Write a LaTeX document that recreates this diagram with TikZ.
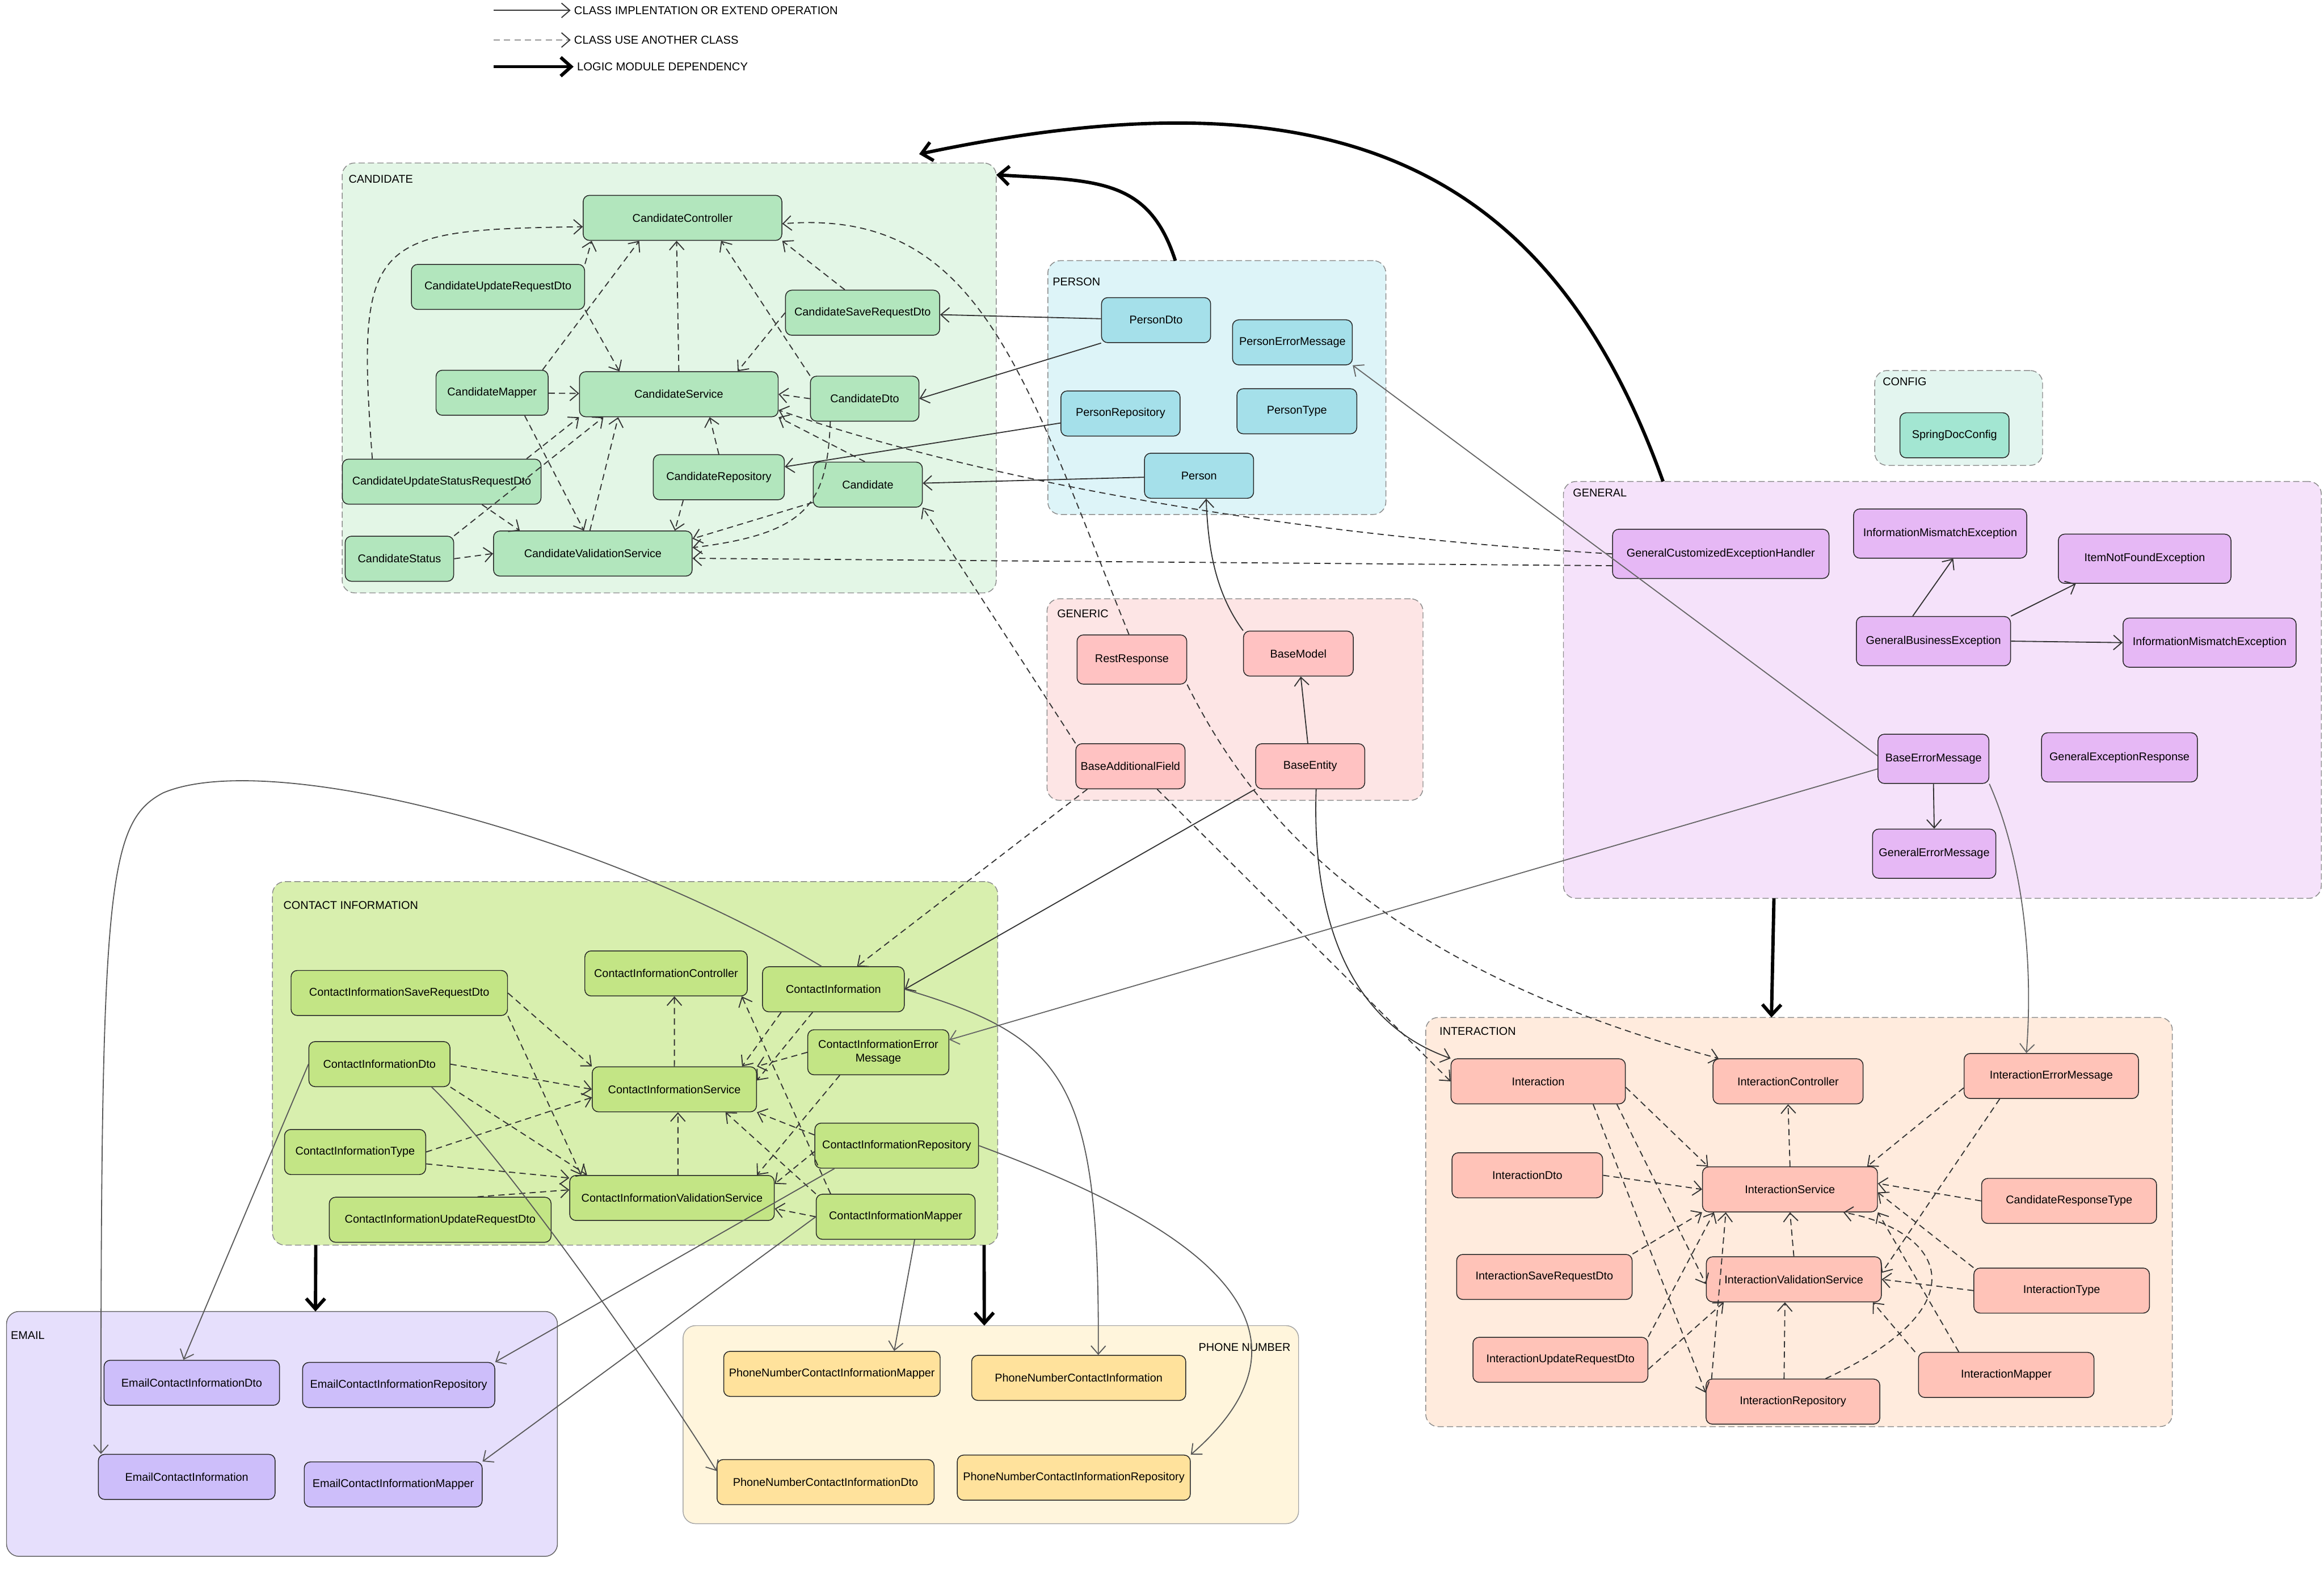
\documentclass[tikz,border=0pt]{standalone}
\usepackage{fontspec}
\setmainfont{Liberation Sans}
\usetikzlibrary{arrows.meta}

\definecolor{candbg}{HTML}{E3F6E6}
\definecolor{candfg}{HTML}{B2E6BD}
\definecolor{persbg}{HTML}{DDF4F8}
\definecolor{persfg}{HTML}{A5E0EA}
\definecolor{genbg}{HTML}{FDE5E5}
\definecolor{genfg}{HTML}{FFC2C2}
\definecolor{cfgbg}{HTML}{E3F5EF}
\definecolor{cfgfg}{HTML}{A3E6D2}
\definecolor{gnlbg}{HTML}{F5E2FA}
\definecolor{gnlfg}{HTML}{E6B8F5}
\definecolor{contbg}{HTML}{D8EFAE}
\definecolor{contfg}{HTML}{C3E585}
\definecolor{mailbg}{HTML}{E6DFFC}
\definecolor{mailfg}{HTML}{CDBEFA}
\definecolor{phonebg}{HTML}{FFF5DC}
\definecolor{phonefg}{HTML}{FFE29C}
\definecolor{interbg}{HTML}{FFEBDD}
\definecolor{interfg}{HTML}{FFC3B8}

\tikzset{
  cls/.style={rectangle, draw=black!85, fill=#1, rounded corners=3pt,
              minimum height=0.76cm, inner sep=1pt, align=center,
              font=\fontsize{5.4}{6.6}\selectfont},
  grp/.style={rectangle, draw=black!45, dash pattern=on 3pt off 1.5pt,
              fill=#1, rounded corners=6pt, inner sep=0pt, outer sep=0pt},
  grplbl/.style={font=\fontsize{5.4}{6}\selectfont, inner sep=0pt},
  lgd/.style={font=\fontsize{5.5}{6}\selectfont, anchor=west, inner sep=1.5pt},
  impl/.style={-{Straight Barb[length=4pt,width=7pt]}, draw=black!80, line width=0.5pt},
  uses/.style={impl, dash pattern=on 3pt off 2pt},
  dep/.style={-{Straight Barb[length=5pt,width=9pt]}, line width=1.6pt}
}

\begin{document}
\begin{tikzpicture}[x=0.025cm, y=-0.025cm]
  \useasboundingbox (0,0) rectangle (1568,1060);

  % Legend
  \coordinate (lgA) at (333,7);
  \coordinate (lgB) at (333,27);
  \coordinate (lgC) at (333,45);
  \node[lgd] (lgAtxt) at (385,7) {CLASS IMPLENTATION OR EXTEND OPERATION};
  \node[lgd] (lgBtxt) at (385,27) {CLASS USE ANOTHER CLASS};
  \node[lgd] (lgCtxt) at (387,45) {LOGIC MODULE DEPENDENCY};
  \draw[impl] (lgA) -- (lgAtxt.west);
  \draw[uses] (lgB) -- (lgBtxt.west);
  \draw[dep] (lgC) -- (lgCtxt.west);

  % Modules
  \node[grp=candbg, minimum width=11.03cm, minimum height=7.25cm] (gCand) at (451.5,255) {};
  \node[grp=persbg, minimum width=5.7cm, minimum height=4.28cm] (gPerson) at (821,261.5) {};
  \node[grp=genbg, minimum width=6.34cm, minimum height=3.4cm] (gGeneric) at (833.25,472) {};
  \node[grp=cfgbg, minimum width=2.83cm, minimum height=1.6cm] (gConfig) at (1321.5,282) {};
  \node[grp=gnlbg, minimum width=12.78cm, minimum height=7.03cm] (gGeneral) at (1310.5,465.5) {};
  \node[grp=contbg, minimum width=12.23cm, minimum height=6.13cm] (gContact) at (428.5,717.5) {};
  \node[grp=mailbg, solid, draw=black!60, minimum width=9.29cm, minimum height=4.13cm] (gEmail) at (190.25,967.5) {};
  \node[grp=phonebg, solid, draw=black!35, minimum width=10.38cm, minimum height=3.34cm] (gPhone) at (668.5,961.25) {};
  \node[grp=interbg, minimum width=12.59cm, minimum height=6.9cm] (gInter) at (1213.8,824.55) {};

  \node[grplbl, anchor=west] (lCand) at (235,121) {CANDIDATE};
  \node[grplbl, anchor=west] (lPerson) at (710,190) {PERSON};
  \node[grplbl, anchor=west] (lGeneric) at (713,414) {GENERIC};
  \node[grplbl, anchor=west] (lConfig) at (1270,257.5) {CONFIG};
  \node[grplbl, anchor=west] (lGeneral) at (1061,332.6) {GENERAL};
  \node[grplbl, anchor=west] (lContact) at (191,610.7) {CONTACT INFORMATION};
  \node[grplbl, anchor=west] (lEmail) at (7,901) {EMAIL};
  \node[grplbl, anchor=east] (lPhone) at (871,909) {PHONE NUMBER};
  \node[grplbl, anchor=west] (lInter) at (971,696) {INTERACTION};

  % Candidate
  \node[cls=candfg, minimum width=3.35cm] (cCtrl) at (460.5,147) {CandidateController};
  \node[cls=candfg, minimum width=2.92cm] (cUpdReq) at (336,193.6) {CandidateUpdateRequestDto};
  \node[cls=candfg, minimum width=2.6cm] (cSaveReq) at (582,211) {CandidateSaveRequestDto};
  \node[cls=candfg, minimum width=1.89cm] (cMapper) at (332,265) {CandidateMapper};
  \node[cls=candfg, minimum width=3.35cm] (cServ) at (458,266) {CandidateService};
  \node[cls=candfg, minimum width=1.83cm] (cDto) at (583.4,269) {CandidateDto};
  \node[cls=candfg, minimum width=3.35cm] (cUpdStat) at (298,325) {CandidateUpdateStatusRequestDto};
  \node[cls=candfg, minimum width=2.21cm] (cRepo) at (485,322) {CandidateRepository};
  \node[cls=candfg, minimum width=1.84cm] (cand) at (585.5,327) {Candidate};
  \node[cls=candfg, minimum width=1.83cm] (cStatus) at (269.5,377) {CandidateStatus};
  \node[cls=candfg, minimum width=3.35cm] (cVal) at (400,373.5) {CandidateValidationService};

  % Person
  \node[cls=persfg, minimum width=1.84cm] (pDto) at (780,216) {PersonDto};
  \node[cls=persfg, minimum width=2.02cm] (pErr) at (872,231) {PersonErrorMessage};
  \node[cls=persfg, minimum width=2.01cm] (pRepo) at (756,279) {PersonRepository};
  \node[cls=persfg, minimum width=2.02cm] (pType) at (875,277.5) {PersonType};
  \node[cls=persfg, minimum width=1.84cm] (person) at (809,321) {Person};

  % Generic
  \node[cls=genfg, minimum width=1.85cm, minimum height=0.83cm] (restResp) at (763.7,445) {RestResponse};
  \node[cls=genfg, minimum width=1.85cm] (baseModel) at (876,441) {BaseModel};
  \node[cls=genfg, minimum width=1.84cm] (baseAdd) at (762.7,517) {BaseAdditionalField};
  \node[cls=genfg, minimum width=1.84cm] (baseEnt) at (884,517) {BaseEntity};

  % Config
  \node[cls=cfgfg, minimum width=1.84cm] (springDoc) at (1318.7,293.7) {SpringDocConfig};

  % General
  \node[cls=gnlfg, minimum width=3.65cm, minimum height=0.83cm] (gHandler) at (1161,373.7) {GeneralCustomizedExceptionHandler};
  \node[cls=gnlfg, minimum width=2.92cm, minimum height=0.83cm] (infoMisA) at (1309,360) {InformationMismatchException};
  \node[cls=gnlfg, minimum width=2.91cm, minimum height=0.83cm] (itemNF) at (1447,377) {ItemNotFoundException};
  \node[cls=gnlfg, minimum width=2.6cm, minimum height=0.83cm] (gBiz) at (1304.5,432.6) {GeneralBusinessException};
  \node[cls=gnlfg, minimum width=2.92cm, minimum height=0.83cm] (infoMisB) at (1490.8,433.6) {InformationMismatchException};
  \node[cls=gnlfg, minimum width=1.87cm, minimum height=0.83cm] (baseErr) at (1304.5,512) {BaseErrorMessage};
  \node[cls=gnlfg, minimum width=2.63cm, minimum height=0.83cm] (gExcResp) at (1430,511) {GeneralExceptionResponse};
  \node[cls=gnlfg, minimum width=2.08cm, minimum height=0.83cm] (gErr) at (1305,576) {GeneralErrorMessage};

  % Contact information
  \node[cls=contfg, minimum width=3.65cm] (ciSave) at (269.4,670) {ContactInformationSaveRequestDto};
  \node[cls=contfg, minimum width=2.74cm] (ciCtrl) at (449.4,656.8) {ContactInformationController};
  \node[cls=contfg, minimum width=2.39cm] (ci) at (562.3,667.5) {ContactInformation};
  \node[cls=contfg, minimum width=2.38cm] (ciDto) at (256,718) {ContactInformationDto};
  \node[cls=contfg, minimum width=2.38cm] (ciErr) at (592.6,710) {ContactInformationError\\Message};
  \node[cls=contfg, minimum width=2.77cm] (ciServ) at (455,735) {ContactInformationService};
  \node[cls=contfg, minimum width=2.38cm] (ciType) at (239.6,777.3) {ContactInformationType};
  \node[cls=contfg, minimum width=2.76cm] (ciRepo) at (605,773) {ContactInformationRepository};
  \node[cls=contfg, minimum width=3.45cm] (ciVal) at (453.4,808.3) {ContactInformationValidationService};
  \node[cls=contfg, minimum width=3.74cm] (ciUpd) at (297,823) {ContactInformationUpdateRequestDto};
  \node[cls=contfg, minimum width=2.68cm] (ciMapper) at (604.3,821) {ContactInformationMapper};

  % Email
  \node[cls=mailfg, minimum width=2.96cm] (eDto) at (129.4,933) {EmailContactInformationDto};
  \node[cls=mailfg, minimum width=3.24cm] (eRepo) at (269,934.5) {EmailContactInformationRepository};
  \node[cls=mailfg, minimum width=2.98cm] (eCI) at (126,996.5) {EmailContactInformation};
  \node[cls=mailfg, minimum width=3cm] (eMapper) at (265.3,1001.6) {EmailContactInformationMapper};

  % Phone number
  \node[cls=phonefg, minimum width=3.65cm] (phMapper) at (561.3,927) {PhoneNumberContactInformationMapper};
  \node[cls=phonefg, minimum width=3.61cm] (phCI) at (727.8,929.7) {PhoneNumberContactInformation};
  \node[cls=phonefg, minimum width=3.66cm] (phDto) at (557,1000) {PhoneNumberContactInformationDto};
  \node[cls=phonefg, minimum width=3.93cm] (phRepo) at (724.5,997) {PhoneNumberContactInformationRepository};

  % Interaction
  \node[cls=interfg, minimum width=2.94cm] (iInt) at (1037.8,729.6) {Interaction};
  \node[cls=interfg, minimum width=2.53cm] (iCtrl) at (1206.4,729.6) {InteractionController};
  \node[cls=interfg, minimum width=2.94cm] (iErr) at (1384,726) {InteractionErrorMessage};
  \node[cls=interfg, minimum width=2.54cm] (iDto) at (1030.5,793) {InteractionDto};
  \node[cls=interfg, minimum width=2.95cm] (iServ) at (1207.7,802.5) {InteractionService};
  \node[cls=interfg, minimum width=2.95cm] (crType) at (1396,810.3) {CandidateResponseType};
  \node[cls=interfg, minimum width=2.96cm] (iSave) at (1042,861.6) {InteractionSaveRequestDto};
  \node[cls=interfg, minimum width=2.95cm] (iVal) at (1210.3,863.2) {InteractionValidationService};
  \node[cls=interfg, minimum width=2.96cm] (iType) at (1391,870.8) {InteractionType};
  \node[cls=interfg, minimum width=2.95cm] (iUpd) at (1052.8,917.5) {InteractionUpdateRequestDto};
  \node[cls=interfg, minimum width=2.96cm] (iMapper) at (1353.6,927.7) {InteractionMapper};
  \node[cls=interfg, minimum width=2.93cm] (iRepo) at (1209.7,945.7) {InteractionRepository};

  % Module dependencies
  \draw[dep] ([xshift=1.68cm]gGeneral.north west) .. controls (1045,110) and (900,45) .. ([xshift=9.73cm,yshift=0.15cm]gCand.north west);
  \draw[dep] ([xshift=2.15cm]gPerson.north west) .. controls (775,120) and (740,122) .. ([yshift=-0.2cm]gCand.north east);
  \draw[dep] ([xshift=3.55cm]gGeneral.south west) -- ([xshift=5.83cm]gInter.north west);
  \draw[dep] ([xshift=0.73cm]gContact.south west) -- ([xshift=5.21cm]gEmail.north west);
  \draw[dep] ([xshift=12cm]gContact.south west) -- ([xshift=5.08cm]gPhone.north west);

  % Candidate uses
  \draw[uses] ([xshift=-1.17cm]cUpdStat.north) .. controls (240,160) and (250,155) .. ([yshift=-0.15cm]cCtrl.west);
  \draw[uses] (cUpdReq.north east) -- ([xshift=0.15cm]cCtrl.south west);
  \draw[uses] (cUpdReq.south east) -- ([xshift=0.68cm]cServ.north west);
  \draw[uses] ([xshift=-0.1cm]cMapper.north east) -- ([xshift=-0.73cm]cCtrl.south);
  \draw[uses] (cMapper) -- (cServ);
  \draw[uses] ([xshift=0.55cm]cMapper.south) -- ([xshift=-0.15cm]cVal.north);
  \draw[uses] (cServ.north) -- ([xshift=-0.1cm]cCtrl.south);
  \draw[uses] ([xshift=-0.3cm]cSaveReq.north) -- (cCtrl.south east);
  \draw[uses] (cSaveReq.west) -- ([xshift=-0.69cm]cServ.north east);
  \draw[uses] (cDto.north west) -- ([xshift=0.65cm]cCtrl.south);
  \draw[uses] (cDto.west) -- (cServ.east);
  \draw[uses] ([xshift=-0.58cm]cDto.south) .. controls (558,340) and (545,360) .. ([yshift=0.1cm]cVal.east);
  \draw[uses] ([xshift=-0.05cm]cand.north) -- (cServ.south east);
  \draw[uses] ([yshift=-0.3cm]cand.west) -- ([yshift=0.25cm]cVal.east);
  \draw[uses] (cRepo.north) -- ([xshift=0.52cm]cServ.south);
  \draw[uses] ([xshift=-0.6cm]cRepo.south) -- ([xshift=-0.3cm]cVal.north east);
  \draw[uses] ([xshift=-0.25cm]cUpdStat.north east) -- (cServ.south west);
  \draw[uses] ([xshift=0.68cm]cUpdStat.south) -- ([xshift=0.45cm]cVal.north west);
  \draw[uses] (cStatus.north east) -- ([xshift=0.41cm]cServ.south west);
  \draw[uses] ([xshift=-0.05cm]cVal.north) -- ([xshift=0.66cm]cServ.south west);
  \draw[uses] (cStatus.east) -- (cVal.west);

  % Person and generic
  \draw[impl] (pDto) -- (cSaveReq);
  \draw[impl] (pDto.south west) -- (cDto.east);
  \draw[impl] (pRepo) -- (cRepo);
  \draw[impl] (person) -- (cand);
  \draw[impl] (baseModel.north west) .. controls (820,400) and (815,370) .. ([xshift=0.12cm]person.south);
  \draw[impl] (baseEnt) -- (baseModel);
  \draw[impl] (baseEnt.south west) -- (ci.east);
  \draw[impl] ([xshift=0.1cm]baseEnt.south) .. controls (885,620) and (910,690) .. (iInt.north west);
  \draw[uses] ([xshift=-0.05cm]restResp.north) .. controls (690,250) and (660,140) .. ([yshift=-0.1cm]cCtrl.east);
  \draw[uses] (restResp.south east) .. controls (840,540) and (920,650) .. ([xshift=0.1cm]iCtrl.north west);
  \draw[uses] (baseAdd.north west) -- (cand.south east);
  \draw[uses] ([xshift=0.2cm]baseAdd.south west) -- ([xshift=0.4cm]ci.north);
  \draw[uses] ([xshift=0.45cm]baseAdd.south) -- (iInt.west);

  % General
  \draw[uses] (gHandler.west) .. controls (850,360) and (650,320) .. ([yshift=0.12cm]cServ.south east);
  \draw[uses] ([yshift=-0.2cm]gHandler.west) -- ([yshift=-0.08cm]cVal.east);
  \draw[impl] ([xshift=-0.35cm]gBiz.north) -- ([xshift=0.22cm]infoMisA.south);
  \draw[impl] (gBiz.north east) -- ([xshift=0.3cm]itemNF.south west);
  \draw[impl] (gBiz.east) -- (infoMisB.west);
  \draw[impl] (baseErr.south) -- (gErr.north);
  \draw[impl, draw=black!60] ([yshift=0.05cm]baseErr.west) -- (pErr.south east);
  \draw[impl, draw=black!60] ([yshift=-0.17cm]baseErr.west) -- ([yshift=0.21cm]ciErr.east);
  \draw[impl, draw=black!60] (baseErr.south east) .. controls (1365,580) and (1372,650) .. ([xshift=-0.42cm]iErr.north);

  % Contact information uses
  \draw[uses] (ciSave.east) -- (ciServ.north west);
  \draw[uses] (ciSave.south east) -- ([xshift=0.2cm]ciVal.north west);
  \draw[uses] (ciDto.east) -- (ciServ.west);
  \draw[uses] (ciDto.south east) -- ([xshift=0.3cm]ciVal.north west);
  \draw[uses] (ciType.east) -- ([yshift=0.25cm]ciServ.south west);
  \draw[uses] ([yshift=-0.2cm]ciType.east) -- ([yshift=-0.05cm]ciVal.north west);
  \draw[uses] ([xshift=0.63cm]ciUpd.north) -- ([yshift=-0.25cm]ciVal.north west);
  \draw[uses] (ciServ.north) -- ([xshift=0.14cm]ciCtrl.south);
  \draw[uses] ([xshift=0.1cm]ciVal.north) -- ([xshift=0.06cm]ciServ.south);
  \draw[uses] ([xshift=-0.88cm]ci.south) -- ([xshift=-0.25cm]ciServ.north east);
  \draw[uses] ([xshift=-0.35cm]ci.south) -- ([yshift=0.15cm]ciServ.east);
  \draw[uses] (ciErr.west) -- (ciServ.north east);
  \draw[uses] ([xshift=-0.65cm]ciErr.south) -- ([xshift=-0.3cm]ciVal.north east);
  \draw[uses] ([yshift=0.18cm]ciRepo.west) -- (ciServ.south east);
  \draw[uses] ([yshift=-0.1cm]ciRepo.west) -- ([yshift=-0.15cm]ciVal.north east);
  \draw[uses] (ciMapper.west) -- ([yshift=-0.18cm]ciVal.east);
  \draw[uses] (ciMapper.north west) -- ([xshift=-0.53cm]ciServ.south east);
  \draw[uses] ([xshift=0.25cm]ciMapper.north west) -- ([xshift=-0.1cm]ciCtrl.south east);

  % Contact information to email and phone number
  \draw[impl, draw=black!65] ([xshift=-0.2cm]ci.north) .. controls (400,560) and (180,505) .. (110,535)
             .. controls (72,555) and (68,600) .. ([xshift=0.05cm]eCI.north west);
  \draw[impl, draw=black!65] (ci.east) .. controls (720,700) and (742,730) .. ([xshift=0.33cm]phCI.north);
  \draw[impl, draw=black!65] (ciDto.west) -- ([xshift=-0.14cm]eDto.north);
  \draw[impl, draw=black!65] ([xshift=0.88cm]ciDto.south) .. controls (341,781) and (448,935) .. ([yshift=-0.2cm]phDto.north west);
  \draw[impl, draw=black!65] (ciRepo.east) .. controls (760,810) and (920,880) .. (phRepo.north east);
  \draw[impl, draw=black!65] ([xshift=-1.05cm]ciRepo.south) -- (eRepo.north east);
  \draw[impl, draw=black!65] (ciMapper.west) -- (eMapper.north east);
  \draw[impl, draw=black!65] ([xshift=0.32cm]ciMapper.south) -- ([xshift=1.05cm]phMapper.north);

  % Interaction uses
  \draw[uses] ([yshift=-0.1cm]iInt.east) -- ([xshift=0.1cm]iServ.north west);
  \draw[uses] ([xshift=-0.15cm]iInt.south east) -- ([yshift=-0.08cm]iVal.west);
  \draw[uses] ([xshift=-0.55cm]iInt.south east) -- ([yshift=0.15cm]iRepo.west);
  \draw[uses] (iDto.east) -- (iServ.west);
  \draw[uses] (iSave.north east) -- (iServ.south west);
  \draw[uses] (iUpd.north east) -- ([xshift=0.2cm]iServ.south west);
  \draw[uses] ([yshift=-0.16cm]iUpd.east) -- ([xshift=0.3cm]iVal.south west);
  \draw[uses] ([xshift=0.1cm]iRepo.north west) -- ([xshift=0.4cm]iServ.south west);
  \draw[uses] (iServ.north) -- (iCtrl.south);
  \draw[uses] (iVal.north) -- (iServ.south);
  \draw[uses] ([xshift=-0.15cm]iRepo.north) -- ([xshift=-0.15cm]iVal.south);
  \draw[uses] ([xshift=0.55cm]iRepo.north) .. controls (1340,880) and (1310,830) .. ([xshift=0.9cm]iServ.south);
  \draw[uses] ([yshift=-0.2cm]iErr.west) -- ([xshift=-0.18cm]iServ.north east);
  \draw[uses] ([xshift=-0.87cm]iErr.south) -- ([yshift=0.11cm]iVal.east);
  \draw[uses] (crType.west) -- ([yshift=0.1cm]iServ.east);
  \draw[uses] (iType.north west) -- ([yshift=-0.05cm]iServ.east);
  \draw[uses] (iType.west) -- (iVal.east);
  \draw[uses] ([xshift=-0.05cm]iMapper.north west) -- ([xshift=-0.15cm]iVal.south east);
  \draw[uses] ([xshift=-0.8cm]iMapper.north) -- (iServ.south east);
\end{tikzpicture}
\end{document}
